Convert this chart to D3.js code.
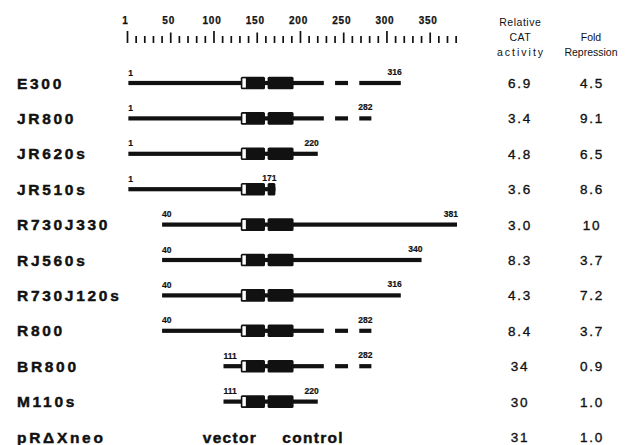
<!DOCTYPE html>
<html lang="en">
<head>
<meta charset="utf-8">
<script src="https://cdnjs.cloudflare.com/ajax/libs/d3/7.8.5/d3.min.js"></script>
<style>
  body { margin: 0; background: #fff; }
  text { font-family: "Liberation Sans", Arial, Helvetica, sans-serif; fill: #111; }
  .name { font-size: 15.5px; font-weight: bold; letter-spacing: 2.7px; stroke: #111; stroke-width: 0.45px; }
  .num { font-size: 8.5px; font-weight: bold; stroke: #111; stroke-width: 0.2px; }
  .rule { font-size: 10px; font-weight: bold; letter-spacing: 0.8px; stroke: #111; stroke-width: 0.25px; }
  .head { font-size: 10.5px; }
  .val { font-size: 13.5px; letter-spacing: 1.8px; stroke: #111; stroke-width: 0.35px; }
</style>
</head>
<body>
<svg id="chart" width="631" height="445"></svg>
<script>
// constructs, top to bottom
const names = ["E300", "JR800", "JR620s", "JR510s", "R730J330", "RJ560s",
  "R730J120s", "R800", "BR800", "M110s", "pR\u0394Xneo"];
const starts = [1, 1, 1, 1, 40, 40, 40, 40, 111, 111];
const ends = [316, 282, 220, 171, 381, 340, 316, 282, 282, 220];
const dashed = [true, true, false, false, false, false, false, true, true, false];
// gaps in the dashed tail (sequence units)
const gaps = [[227, 240], [255, 268]];
// boxed elements (sequence units)
const box1 = [131, 159], openPart = [131, 138], box2 = [162, 192];

const activity = ["6.9", "3.4", "4.8", "3.6", "3.0", "8.3", "4.3", "8.4", "34", "30", "31"];
const fold = ["4.5", "9.1", "6.5", "8.6", "10", "3.7", "7.2", "3.7", "0.9", "1.0", "1.0"];

const rulerLabels = [1, 50, 100, 150, 200, 250, 300, 350];
const rulerTicks = d3.range(0, 381, 10);

const svg = d3.select("#chart");
const x = d3.scaleLinear().domain([0, 381]).range([127.5, 457]);
const y = d3.scalePoint().domain(names).range([83, 437]);

// ruler
const ruler = svg.append("g");
ruler.selectAll("line")
  .data(rulerTicks)
  .join("line")
  .attr("x1", d => x(d)).attr("x2", d => x(d))
  .attr("y1", d => d % 100 == 0 ? 31 : d % 50 == 0 ? 32.5 : 36)
  .attr("y2", 43)
  .attr("stroke", "#111")
  .attr("stroke-width", 1.7);
ruler.selectAll("text")
  .data(rulerLabels)
  .join("text")
  .attr("class", "rule")
  .attr("x", d => x(d == 1 ? 0 : d) - 2)
  .attr("y", 24)
  .attr("text-anchor", "middle")
  .text(d => d);

// names
svg.selectAll("text.name")
  .data(names)
  .join("text")
  .attr("class", "name")
  .attr("x", 17)
  .attr("y", d => y(d) + 5.5)
  .text(d => d);

// headers
const hd = [
  { t: "Relative", cx: 520, y: 25.5, ls: 0.5 },
  { t: "CAT", cx: 520, y: 40.5, ls: 0.5 },
  { t: "activity", cx: 520, y: 56, ls: 2 },
  { t: "Fold", cx: 591, y: 40.5, ls: 0 },
  { t: "Repression", cx: 591, y: 56, ls: 0 }
];
svg.selectAll("text.head")
  .data(hd)
  .join("text")
  .attr("class", "head")
  .attr("x", d => d.cx + d.ls / 2)
  .attr("y", d => d.y)
  .attr("text-anchor", "middle")
  .style("letter-spacing", d => d.ls + "px")
  .text(d => d.t);

// value columns
svg.selectAll("text.act")
  .data(activity)
  .join("text")
  .attr("class", "val act")
  .attr("x", 520)
  .attr("y", (d, i) => y(names[i]) + 5)
  .attr("text-anchor", "middle")
  .text(d => d);
svg.selectAll("text.fold")
  .data(fold)
  .join("text")
  .attr("class", "val fold")
  .attr("x", 592)
  .attr("y", (d, i) => y(names[i]) + 5)
  .attr("text-anchor", "middle")
  .text(d => d);

// constructs
const rows = starts.map((s, i) => ({ name: names[i], s: s, e: ends[i], dashed: dashed[i] }));
const g = svg.selectAll("g.row")
  .data(rows)
  .join("g")
  .attr("class", "row")
  .attr("transform", d => `translate(0,${y(d.name)})`);

g.each(function(d) {
  const row = d3.select(this);
  let segs = [[d.s, d.e]];
  if (d.dashed) {
    segs = [[d.s, gaps[0][0]], [gaps[0][1], gaps[1][0]], [gaps[1][1], d.e]];
  }
  row.selectAll("rect.seg")
    .data(segs)
    .join("rect")
    .attr("class", "seg")
    .attr("x", s => x(s[0]))
    .attr("width", s => x(s[1]) - x(s[0]))
    .attr("y", -2.1)
    .attr("height", 4.2)
    .attr("fill", "#111");

  const bx = [box1, [box2[0], Math.min(box2[1], d.e)]];
  row.selectAll("rect.box")
    .data(bx)
    .join("rect")
    .attr("class", "box")
    .attr("x", b => x(b[0]))
    .attr("width", b => x(b[1]) - x(b[0]))
    .attr("y", -6.3)
    .attr("height", 12.6)
    .attr("rx", 1.5)
    .attr("fill", "#111");
  row.append("rect")
    .attr("x", x(openPart[0]) + 1.6)
    .attr("width", x(openPart[1]) - x(openPart[0]) - 2.6)
    .attr("y", -4.6)
    .attr("height", 9.2)
    .attr("fill", "#fff");

  row.append("text")
    .attr("class", "num")
    .attr("x", x(d.s))
    .attr("y", -7.5)
    .text(d.s);
  row.append("text")
    .attr("class", "num")
    .attr("x", x(d.e) + 1)
    .attr("y", -8)
    .attr("text-anchor", "end")
    .text(d.e);
});

// last row
svg.append("text")
  .attr("class", "name")
  .style("letter-spacing", "1.3px")
  .attr("x", x(87))
  .attr("y", y(names[10]) + 5.5)
  .text("vector");
svg.append("text")
  .attr("class", "name")
  .style("letter-spacing", "1.3px")
  .attr("x", x(179))
  .attr("y", y(names[10]) + 5.5)
  .text("control");
</script>
</body>
</html>
